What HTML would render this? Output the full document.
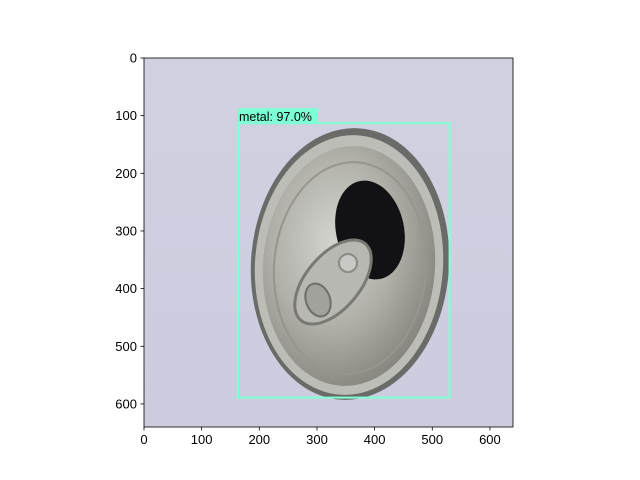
<!DOCTYPE html>
<html><head><meta charset="utf-8"><style>
html,body{margin:0;padding:0;background:#fff;}
svg{display:block;font-family:"Liberation Sans","DejaVu Sans",sans-serif;}
</style></head><body>
<svg id="chart" width="640" height="480" viewBox="0 0 640 480" xmlns="http://www.w3.org/2000/svg">
<defs>
<radialGradient id="canG" cx="0.4" cy="0.4" r="0.65">
<stop offset="0" stop-color="#d4d4cf"/><stop offset="0.55" stop-color="#b0b0a9"/><stop offset="1" stop-color="#85857e"/>
</radialGradient>
<linearGradient id="bgG" x1="0" y1="0" x2="0" y2="1">
<stop offset="0" stop-color="#d0d1e0"/><stop offset="1" stop-color="#cbcddf"/>
</linearGradient>
</defs>
<g id="image">
<rect x="144" y="58" width="369" height="369" fill="url(#bgG)"/>
<ellipse cx="350" cy="264" rx="99" ry="136" fill="#6a6b68" transform="rotate(4 350 264)"/>
<ellipse cx="349" cy="265" rx="94" ry="130" fill="#bdbdb7" transform="rotate(4 349 265)"/>
<ellipse cx="349" cy="266" rx="86" ry="120" fill="url(#canG)" transform="rotate(4 349 266)"/>
<ellipse cx="350" cy="268" rx="76" ry="106" fill="none" stroke="#96968f" stroke-width="2" transform="rotate(4 350 268)"/>
<ellipse cx="370" cy="230" rx="34" ry="50" fill="#121214" transform="rotate(-12 370 230)"/>
<ellipse cx="333" cy="282" rx="27" ry="50" fill="#b8b8b2" stroke="#7a7a74" stroke-width="3" transform="rotate(40 333 282)"/>
<ellipse cx="318" cy="300" rx="12" ry="17" fill="#a2a29c" stroke="#6f6f6a" stroke-width="2" transform="rotate(-20 318 300)"/>
<circle cx="348" cy="263" r="9" fill="#c8c8c4" stroke="#8a8a86" stroke-width="2"/>
</g>
<g id="axes"></g>
<g id="overlay"></g>
</svg>
<script>
const xTicks=[0,100,200,300,400,500,600];
const yTicks=[0,100,200,300,400,500,600];
const boxCoords=[163,113,530,589];
const boxLabel="metal: 97.0%";
const ax={x0:144,y0:58,w:369,h:369,n:640};
function sx(v){return ax.x0+v/ax.n*ax.w;}
function sy(v){return ax.y0+v/ax.n*ax.h;}
const NS="http://www.w3.org/2000/svg";
function mk(t,a,p){const e=document.createElementNS(NS,t);for(const k in a)e.setAttribute(k,a[k]);p.appendChild(e);return e;}
const axes=document.getElementById('axes');
const fr=mk('rect',{x:ax.x0,y:ax.y0,width:ax.w,height:ax.h,fill:'none',stroke:'#000','stroke-width':0.8},axes);


xTicks.forEach(v=>{
 const x=sx(v);
 const l=mk('line',{x1:x,y1:ax.y0+ax.h,x2:x,y2:ax.y0+ax.h+3.5,stroke:'#000','stroke-width':0.8},axes);
 
 
 const t=mk('text',{x:x,y:ax.y0+ax.h+17,'text-anchor':'middle','font-size':13},axes);
 t.textContent=v;
 
 
});
yTicks.forEach(v=>{
 const y=sy(v);
 const l=mk('line',{x1:ax.x0-3.5,y1:y,x2:ax.x0,y2:y,stroke:'#000','stroke-width':0.8},axes);
 
 
 const t=mk('text',{x:ax.x0-7,y:y+4.5,'text-anchor':'end','font-size':13},axes);
 t.textContent=v;
 
 
});
const ov=document.getElementById('overlay');
const bx=mk('rect',{x:sx(boxCoords[0]),y:sy(boxCoords[1]),width:sx(boxCoords[2])-sx(boxCoords[0]),height:sy(boxCoords[3])-sy(boxCoords[1]),fill:'none',stroke:'#7fffd4','stroke-width':2},ov);


const lb=mk('rect',{x:sx(boxCoords[0]),y:sy(boxCoords[1])-15,width:80,height:15,fill:'#7fffd4'},ov);


const lt=mk('text',{x:sx(boxCoords[0])+1,y:sy(boxCoords[1])-2,'font-size':12.5,fill:'#000'},ov);
lt.textContent=boxLabel;


</script>
</body></html>
